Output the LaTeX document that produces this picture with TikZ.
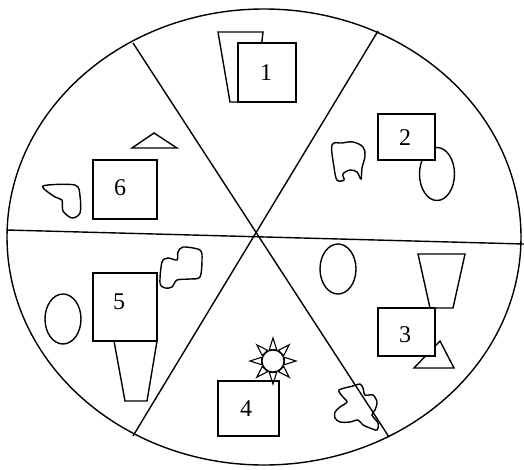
\documentclass[tikz,border=0pt]{standalone}
\usepackage{fontspec}
\setmainfont{Liberation Serif}
\usetikzlibrary{calc}
\begin{document}
\begin{tikzpicture}[x=1pt,y=-1pt,line width=1.4pt,line join=miter,
  box/.style={draw,fill=white,inner sep=0pt},
  lbl/.style={inner sep=0pt,font=\fontsize{24}{24}\selectfont},
  shp/.style={draw,fill=white}]
\useasboundingbox (0,0) rectangle (524,469);
% outer ellipse and dividing lines
\draw (264,237) ellipse [x radius=257pt, y radius=228pt];
\coordinate (a1) at (133,43);  \coordinate (a2) at (389,437);
\coordinate (b1) at (378,31);  \coordinate (b2) at (133,436);
\coordinate (c1) at (7,230);   \coordinate (c2) at (524,244);
\draw (a1) -- (a2);
\draw (b1) -- (b2);
\draw (c1) -- (c2);
% sector 1
\draw[shp] (218,32) -- (263,32) -- (255,102) -- (230,102) -- cycle;
\node[box,minimum width=58pt,minimum height=59pt] (n1) at (267,72.5) {};
\node[lbl] (t1) at (266,73) {1};
% sector 2
\draw[shp] (437,174) ellipse [x radius=17.5pt, y radius=26.5pt];
\node[box,minimum width=57pt,minimum height=46pt] (n2) at (406.5,137) {};
\node[lbl] (t2) at (405,138) {2};
\draw plot[smooth cycle,tension=0.6] coordinates {(332,145) (342,143) (353,142) (363,147) (365,156) (362,168) (361,179) (357,172) (350,170) (343,174) (344,180) (337,180) (334,167)};
% sector 3
\draw (338,269) ellipse [x radius=18pt, y radius=25pt];
\draw[shp] (418,254) -- (465,254) -- (453,308) -- (430,308) -- cycle;
\draw[shp] (440,341) -- (454,368) -- (414,368) -- cycle;
\node[box,minimum width=57pt,minimum height=48pt] (n3) at (406.5,332) {};
\node[lbl] (t3) at (405,335) {3};
% sector 4
\node[box,minimum width=61pt,minimum height=55pt] (n4) at (248.5,408.5) {};
\node[lbl] (t4) at (246,409) {4};
\coordinate (sun) at (273,361);
\draw[line width=1.1pt] (sun) circle [radius=11pt];
\foreach \a in {0,45,...,315}{
  \draw[line width=1.1pt] ($(sun)+(\a-18:12pt)$) -- ($(sun)+(\a:23pt)$) -- ($(sun)+(\a+18:12pt)$) -- cycle;
}
\draw plot[smooth cycle,tension=0.5] coordinates {(339,390) (353,386) (360,384) (363,388) (365,395) (373,395) (377,402) (375,410) (372,415) (378,423) (377,430) (370,428) (363,425) (358,420) (350,422) (340,422) (335,418) (335,412) (340,407) (347,402) (343,397)};
% sector 5
\draw (63,319) ellipse [x radius=18pt, y radius=25pt];
\draw[shp] (114,341) -- (157,341) -- (147,401) -- (125,401) -- cycle;
\node[box,minimum width=64pt,minimum height=68pt] (n5) at (125,307) {};
\node[lbl] (t5) at (119,302) {5};
\draw plot[smooth cycle,tension=0.5] coordinates {(162,262) (168,258) (177,260) (178,252) (183,247) (200,250) (202,260) (200,277) (190,279) (177,280) (172,287) (165,288) (160,283)};
% sector 6
\draw (132,148) -- (177,148) -- (154,133) -- cycle;
\node[box,minimum width=64pt,minimum height=59pt] (n6) at (125,189.5) {};
\node[lbl] (t6) at (120,188) {6};
\draw plot[smooth cycle,tension=0.5] coordinates {(43,186) (75,185) (80,196) (80,213) (72,218) (63,211) (62,200) (55,197)};
\end{tikzpicture}
\end{document}
